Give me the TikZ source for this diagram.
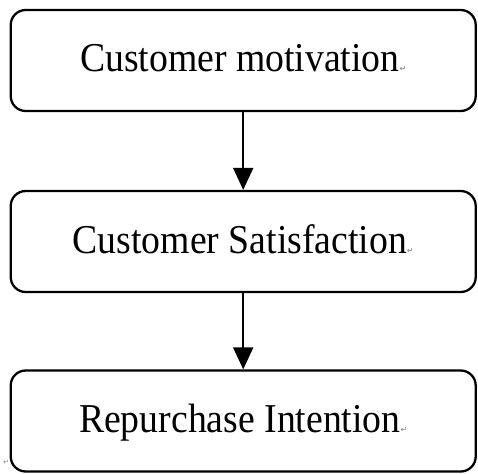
\documentclass[tikz,border=0pt]{standalone}
\usepackage{fontspec}
\setmainfont{Liberation Serif}[FakeStretch=0.92]
\newfontfamily\markfont{DejaVu Sans}
\usetikzlibrary{arrows.meta}
\tikzset{
  stagebox/.style={draw, line width=2.3pt, rounded corners=15pt,
    minimum width=465pt, minimum height=101pt, inner sep=0pt,
    text height=27pt, text depth=4pt,
    font=\fontsize{41}{48}\selectfont},
  flowarrow/.style={line width=2pt, -{Triangle[width=20pt,length=22pt]}},
  parmark/.style={font=\markfont\fontsize{7}{8}\selectfont, text=gray, inner sep=0pt}
}
% small grey paragraph mark after each label
\newcommand{\pmark}{{\markfont\fontsize{8}{8}\selectfont\color{gray}↵}}
\begin{document}
\begin{tikzpicture}[x=1pt,y=-1pt]
  \useasboundingbox (0,0) rectangle (478,473);
  \node[stagebox] (motiv) at (243.2,60.5) {Customer motivation\pmark};
  \node[stagebox] (satis) at (243.2,241.5) {Customer Satisfaction\pmark};
  \node[stagebox] (repur) at (243.2,421) {Repurchase Intention\pmark};
  \draw[flowarrow] (motiv) -- (satis);
  \draw[flowarrow] (satis) -- (repur);
  \node[parmark] (endmark) at (6,462) {↵};
\end{tikzpicture}
\end{document}
